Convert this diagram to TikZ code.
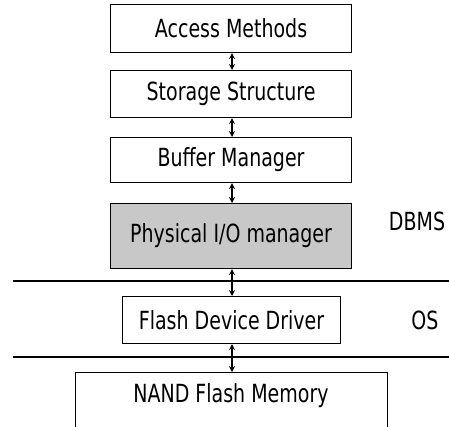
\documentclass[tikz,border=0pt]{standalone}
\usepackage{fontspec}
\setmainfont[FakeStretch=0.76]{DejaVu Sans}
\usetikzlibrary{arrows.meta}
\begin{document}
\begin{tikzpicture}[x=1pt,y=-1pt,
  layer/.style={draw=black,line width=1.1pt,inner sep=0pt,anchor=north west},
  lbl/.style={font=\fontsize{25}{27}\selectfont},
  link/.style={line width=1.2pt,{Stealth[length=6pt,width=6pt]}-{Stealth[length=6pt,width=6pt]}},
  sep/.style={line width=1.1pt}]
\useasboundingbox (0,0) rectangle (449,427);
\begin{scope}
\clip (0,0) rectangle (449,427);
\node[layer,minimum width=241pt,minimum height=48pt] (am) at (110,4) {};
\node[lbl] at (am.center) {Access Methods};
\node[layer,minimum width=241pt,minimum height=47pt] (ss) at (110,70) {};
\node[lbl] at (ss.center) {Storage Structure};
\node[layer,minimum width=241pt,minimum height=45pt] (bm) at (110,137) {};
\node[lbl] at (bm.center) {Buffer Manager};
\node[layer,fill={rgb,255:red,200;green,200;blue,200},minimum width=241pt,minimum height=65pt] (pio) at (110,203) {};
\node[lbl] at (pio.center) {Physical I/O manager};
\node[layer,minimum width=218pt,minimum height=47pt] (fdd) at (122,296) {};
\node[lbl] at (fdd.center) {Flash Device Driver};
\node[layer,minimum width=312pt,minimum height=90pt] (nand) at (75,372) {};
\node[lbl,anchor=center] (nandt) at (231,396) {NAND Flash Memory};
\node[lbl] (dbms) at (417,221) {DBMS};
\node[lbl] (os) at (425,320) {OS};
\coordinate (l1a) at (13,281);
\coordinate (l1b) at (449,281);
\coordinate (l2a) at (13,357);
\coordinate (l2b) at (449,357);
\draw[sep] (l1a) -- (l1b);
\draw[sep] (l2a) -- (l2b);
\draw[link] (am.south -| 232,0) -- (ss.north -| 232,0);
\draw[link] (ss.south -| 232,0) -- (bm.north -| 232,0);
\draw[link] (bm.south -| 232,0) -- (pio.north -| 232,0);
\draw[link] (pio.south -| 232,0) -- (fdd.north -| 232,0);
\draw[link] (fdd.south -| 232,0) -- (nand.north -| 232,0);
\end{scope}
\end{tikzpicture}
\end{document}
